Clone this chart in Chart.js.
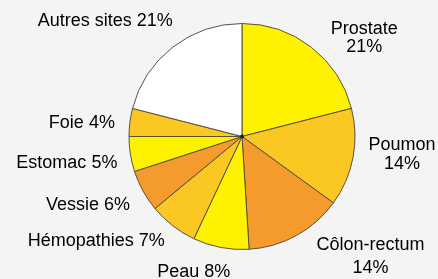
<!DOCTYPE html>
<html>
<head>
<meta charset="utf-8">
<script src="https://cdn.jsdelivr.net/npm/chart.js@4.4.0/dist/chart.umd.min.js"></script>
<style>
  html, body { margin: 0; padding: 0; background: #f4f4f4; }
  #wrap { width: 438px; height: 279px; position: relative; }
</style>
</head>
<body>
<div id="wrap"><canvas id="pieChart"></canvas></div>
<script>
const sites = ['Prostate', 'Poumon', 'Côlon-rectum', 'Peau', 'Hémopathies', 'Vessie', 'Estomac', 'Foie', 'Autres sites'];
const percents = [21, 14, 14, 8, 7, 6, 5, 4, 21];
const labelLines = [['Prostate', '21%'], ['Poumon', '14%'], ['Côlon-rectum', '14%'], ['Peau 8%'],
    ['Hémopathies 7%'], ['Vessie 6%'], ['Estomac 5%'], ['Foie 4%'], ['Autres sites 21%']];

const YELLOW = '#fff200';
const GOLD = '#fbc823';
const ORANGE = '#f59a2c';
const sliceColors = [YELLOW, GOLD, ORANGE, YELLOW, GOLD, ORANGE, YELLOW, GOLD, '#ffffff'];

// position des étiquettes : décalage depuis le point du bord au milieu de chaque part
const labelLayout = [
    { dx: 53, dy: -9, align: 'center', lh: 18.5 },
    { dx: 49, dy: -3, align: 'center', lh: 18.5 },
    { dx: 74, dy: 21, align: 'center', lh: 23 },
    { dx: -27, dy: 25, align: 'center', lh: 18 },
    { dx: -8, dy: 15, align: 'right', lh: 18 },
    { dx: -13, dy: 14, align: 'right', lh: 18 },
    { dx: -13, dy: 9, align: 'right', lh: 18 },
    { dx: -15, dy: 1, align: 'right', lh: 18 },
    { dx: 0, dy: -26, align: 'right', lh: 18 }
];

const sliceLabels = {
    id: 'sliceLabels',
    afterDraw(chart) {
        const ctx = chart.ctx;
        const arcs = chart.getDatasetMeta(0).data;
        ctx.save();
        ctx.fillStyle = '#000';
        ctx.font = '18px "Liberation Sans", Arial, sans-serif';
        ctx.textBaseline = 'middle';
        arcs.forEach((arc, i) => {
            const mid = (arc.startAngle + arc.endAngle) / 2;
            const x = arc.x + Math.cos(mid) * arc.outerRadius + labelLayout[i].dx;
            const y = arc.y + Math.sin(mid) * arc.outerRadius + labelLayout[i].dy;
            const lines = labelLines[i];
            const top = y - (lines.length - 1) * labelLayout[i].lh / 2;
            ctx.textAlign = labelLayout[i].align;
            lines.forEach((t, j) => ctx.fillText(t, x, top + j * labelLayout[i].lh));
        });
        // petit point au centre
        const a = arcs[0];
        ctx.fillStyle = '#222';
        ctx.beginPath();
        ctx.arc(a.x, a.y, 2, 0, Math.PI * 2);
        ctx.fill();
        ctx.restore();
    }
};

new Chart(document.getElementById('pieChart'), {
    type: 'pie',
    data: {
        labels: sites,
        datasets: [{
            data: percents,
            backgroundColor: sliceColors,
            borderColor: '#5a5040',
            borderWidth: 1
        }]
    },
    options: {
        responsive: true,
        maintainAspectRatio: false,
        animation: false,
        layout: { padding: { top: 23, bottom: 29, left: 46, right: 0 } },
        plugins: {
            legend: { display: false },
            tooltip: { enabled: false }
        }
    },
    plugins: [sliceLabels]
});
</script>
</body>
</html>
